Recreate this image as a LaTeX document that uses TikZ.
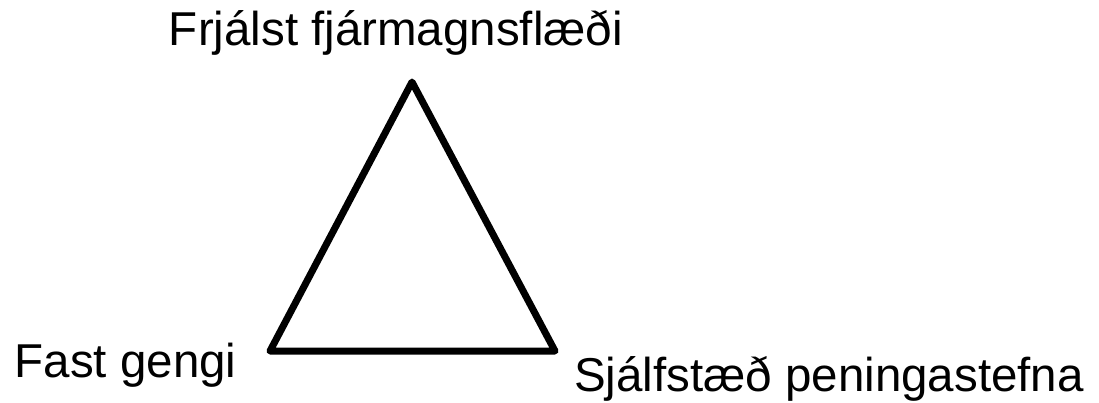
\documentclass[tikz,border=0pt]{standalone}
\usepackage{fontspec}
\setmainfont{Liberation Sans}
\usetikzlibrary{positioning}
\tikzset{
  cornerlbl/.style = {font=\fontsize{47.5}{54}\selectfont, inner sep=0pt},
  side/.style      = {line width=7pt, line join=round, line cap=round},
}
\begin{document}
\begin{tikzpicture}[x=1pt, y=-1pt]
    \useasboundingbox (0,0) rectangle (1099,402);

    \coordinate (top)   at (412,82);
    \coordinate (left)  at (270,351);
    \coordinate (right) at (555,351);

    \draw[side] (top)--(left)--(right)--cycle;

    \node[cornerlbl, anchor=base]      (capital) at (396,45)  {Frjálst fjármagnsflæði};
    \node[cornerlbl, anchor=base west] (rate)    at (14.5,377) {Fast gengi};
    \node[cornerlbl, anchor=base west] (policy)  at (574,391) {Sjálfstæð peningastefna};
  \end{tikzpicture}
\end{document}
